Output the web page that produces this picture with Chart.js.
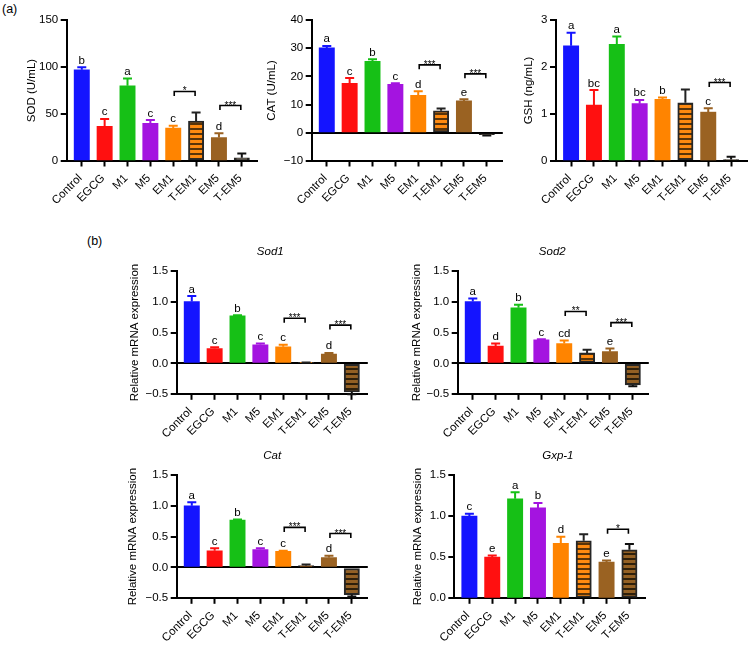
<!DOCTYPE html>
<html><head><meta charset="utf-8">
<script src="https://cdn.jsdelivr.net/npm/chart.js@4.4.1/dist/chart.umd.min.js"></script>
<style>
html,body{margin:0;padding:0;background:#fff;overflow:hidden;width:748px;height:651px;position:relative;}
canvas{position:absolute;}
.lab{position:absolute;font:12.5px "Liberation Sans",Arial,sans-serif;color:#000;}
</style></head><body>
<div class="lab" style="left:2px;top:2px">(a)</div>
<div class="lab" style="left:87px;top:234px">(b)</div>
<script>
// ---------- DATA ----------
const categories = ['Control','EGCG','M1','M5','EM1','T-EM1','EM5','T-EM5'];

const sodMean = [97, 37, 80, 40, 35, 42.5, 25, 3.5];
const sodSD   = [2.8, 7.8, 7.8, 3.5, 2.5, 9, 4.5, 4.5];
const sodLetters = ['b','c','a','c','c','','d',''];
const sodSig = [[4,5,74,'*'],[6,7,59,'***']];
const sodTicks = [0,50,100,150];

const catMean = [30.1, 17.5, 25.3, 17.2, 13.3, 7.8, 11.3, -0.7];
const catSD   = [0.7, 1.9, 0.8, 0.4, 1.4, 0.8, 0.6, 0.3];
const catLetters = ['a','c','b','c','d','','e',''];
const catSig = [[4,5,24.1,'***'],[6,7,20.9,'***']];
const catTicks = [-10,0,10,20,30,40];

const gshMean = [2.45, 1.19, 2.48, 1.22, 1.31, 1.24, 1.04, 0.03];
const gshSD   = [0.28, 0.32, 0.17, 0.08, 0.04, 0.28, 0.08, 0.06];
const gshLetters = ['a','bc','a','bc','b','','c',''];
const gshSig = [[6,7,1.67,'***']];
const gshTicks = [0,1,2,3];

const sod1Mean = [1.0, 0.24, 0.77, 0.30, 0.27, 0.01, 0.15, -0.46];
const sod1SD   = [0.09, 0.02, 0.01, 0.02, 0.03, 0.005, 0.02, 0.04];
const sod1Letters = ['a','c','b','c','c','','d',''];
const sod1Sig = [[4,5,0.73,'***'],[6,7,0.62,'***']];

const sod2Mean = [1.0, 0.28, 0.90, 0.38, 0.32, 0.17, 0.19, -0.35];
const sod2SD   = [0.05, 0.04, 0.05, 0.01, 0.05, 0.05, 0.05, 0.02];
const sod2Letters = ['a','d','b','c','cd','','e',''];
const sod2Sig = [[4,5,0.84,'**'],[6,7,0.66,'***']];

const catgMean = [1.0, 0.27, 0.77, 0.29, 0.26, 0.03, 0.16, -0.44];
const catgSD   = [0.06, 0.04, 0.01, 0.02, 0.01, 0.02, 0.03, 0.03];
const catgLetters = ['a','c','b','c','c','','d',''];
const catgSig = [[4,5,0.65,'***'],[6,7,0.55,'***']];

const gxpMean = [1.0, 0.50, 1.21, 1.10, 0.67, 0.70, 0.44, 0.59];
const gxpSD   = [0.03, 0.02, 0.08, 0.06, 0.08, 0.08, 0.02, 0.07];
const gxpLetters = ['c','e','a','b','d','','e',''];
const gxpSig = [[6,7,0.84,'*']];

const mrnaTicks = [-0.5,0,0.5,1.0,1.5];
const gxpTicks = [0,0.5,1.0,1.5];

// ---------- STYLE / LAYOUT ----------
const FONT = "'Liberation Sans', Arial, sans-serif";
Chart.defaults.font.family = FONT;
Chart.defaults.font.size = 11.5;
Chart.defaults.color = '#000';

function stripes(bg, fg){
  const c = document.createElement('canvas'); c.width = 4; c.height = 5;
  const g = c.getContext('2d');
  g.fillStyle = bg; g.fillRect(0,0,4,5);
  g.fillStyle = fg; g.fillRect(0,3,4,2);
  return g.createPattern(c,'repeat');
}
const barColors = ['#1414ff','#ff1010','#16c016','#a414e0','#ff8400', stripes('#ff8a10','#5a3408'), '#9a6222', stripes('#936024','#2e1f0a')];
const errColors = ['#1414ff','#ff1010','#16c016','#a414e0','#ff8400','#222','#9a6222','#111'];
const borderW = [0,0,0,0,0,2,0,2];

const X_MIN = -0.66, X_MAX = 7.7, UNIT = 22.86;

const panels = [
  {mean:sodMean, sd:sodSD, letters:sodLetters, sig:sodSig, ticks:sodTicks, dec:0, ytitle:'SOD (U/mL)', axisX:66.7, plotTop:20, plotBottom:161, titleX:32},
  {mean:catMean, sd:catSD, letters:catLetters, sig:catSig, ticks:catTicks, dec:0, ytitle:'CAT (U/mL)', axisX:311.7, plotTop:20, plotBottom:161, titleX:272},
  {mean:gshMean, sd:gshSD, letters:gshLetters, sig:gshSig, ticks:gshTicks, dec:0, ytitle:'GSH (ng/mL)', axisX:556, plotTop:20, plotBottom:161, titleX:529},
  {mean:sod1Mean, sd:sod1SD, letters:sod1Letters, sig:sod1Sig, ticks:mrnaTicks, dec:1, ytitle:'Relative mRNA expression', axisX:176.7, plotTop:270.7, plotBottom:394.3, titleX:135, title:'Sod1', tdx:-2},
  {mean:sod2Mean, sd:sod2SD, letters:sod2Letters, sig:sod2Sig, ticks:mrnaTicks, dec:1, ytitle:'Relative mRNA expression', axisX:457.7, plotTop:270.7, plotBottom:394.3, titleX:416.7, title:'Sod2', tdx:-1},
  {mean:catgMean, sd:catgSD, letters:catgLetters, sig:catgSig, ticks:mrnaTicks, dec:1, ytitle:'Relative mRNA expression', axisX:176.7, plotTop:475, plotBottom:598.3, titleX:132.7, title:'Cat', tdx:0},
  {mean:gxpMean, sd:gxpSD, letters:gxpLetters, sig:gxpSig, ticks:gxpTicks, dec:1, ytitle:'Relative mRNA expression', axisX:454.3, plotTop:475, plotBottom:598.3, titleX:417.7, title:'Gxp-1', tdx:8}
];

const annot = {
  id:'annot',
  afterDatasetsDraw(chart, args, o){
    const ctx = chart.ctx, ys = chart.scales.y, meta = chart.getDatasetMeta(0);
    ctx.save();
    o.mean.forEach((m,i)=>{
      const x = meta.data[i].x;
      const dir = m >= 0 ? 1 : -1;
      const y0 = ys.getPixelForValue(m);
      const y1 = ys.getPixelForValue(m + dir*o.sd[i]);
      ctx.strokeStyle = errColors[i]; ctx.lineWidth = 2;
      ctx.beginPath();
      ctx.moveTo(x, y0); ctx.lineTo(x, y1);
      ctx.moveTo(x-4.5, y1); ctx.lineTo(x+4.5, y1);
      ctx.stroke();
      if (o.letters[i]) {
        ctx.fillStyle = '#000'; ctx.font = '11.5px ' + FONT;
        ctx.textAlign = 'center'; ctx.textBaseline = 'alphabetic';
        ctx.fillText(o.letters[i], x, y1 - 3.5);
      }
    });
    o.sig.forEach(([a,b,h,s])=>{
      const xa = meta.data[a].x + 1, xb = meta.data[b].x - 1, yy = ys.getPixelForValue(h);
      ctx.strokeStyle = '#000'; ctx.lineWidth = 1.6;
      ctx.beginPath();
      ctx.moveTo(xa, yy+4.5); ctx.lineTo(xa, yy); ctx.lineTo(xb, yy); ctx.lineTo(xb, yy+4.5);
      ctx.stroke();
      ctx.fillStyle = '#000'; ctx.font = '10px ' + FONT;
      ctx.textAlign = 'center'; ctx.textBaseline = 'alphabetic';
      ctx.fillText(s, (xa+xb)/2, yy + 3);
    });
    if (o.title) {
      const ca = chart.chartArea;
      ctx.fillStyle = '#000'; ctx.font = 'italic 11.5px ' + FONT;
      ctx.textAlign = 'center'; ctx.textBaseline = 'middle';
      ctx.fillText(o.title, (ca.left+ca.right)/2 + o.tdx, ca.top - 19);
    }
    ctx.restore();
  }
};

function fmt(v, dec){
  const s = Math.abs(v).toFixed(dec);
  return (v < 0 ? '\u2212' : '') + s;
}

panels.forEach(P=>{
  const plotW = (X_MAX - X_MIN) * UNIT;
  const cl = Math.round(P.titleX - 6.9);
  const yW = P.axisX - cl;
  const topPad = P.title ? 30 : 10;
  const ct = Math.floor(P.plotTop - topPad);
  const padTop = P.plotTop - ct;
  const plotH = P.plotBottom - P.plotTop;
  const xH = 52;
  const cw = Math.ceil(yW + plotW + 8);
  const ch = Math.ceil(padTop + plotH + xH);
  const padRight = cw - yW - plotW;
  const padBottom = ch - padTop - plotH - xH;

  const cv = document.createElement('canvas');
  cv.width = cw; cv.height = ch;
  cv.style.left = cl + 'px'; cv.style.top = ct + 'px';
  cv.style.width = cw + 'px'; cv.style.height = ch + 'px';
  document.body.appendChild(cv);

  const data = P.mean.map((v,i)=>({x:i, y:v}));
  const hasZeroLine = P.ticks[0] < 0;

  new Chart(cv, {
    type:'bar',
    data:{ datasets:[{
      data,
      backgroundColor: barColors,
      borderColor: '#262626',
      borderWidth: borderW,
      borderSkipped: false,
      barThickness: 15.3,
    }]},
    options:{
      responsive:false, animation:false, events:[],
      layout:{ padding:{left:0, top:padTop, right:padRight, bottom:padBottom} },
      plugins:{ legend:{display:false}, tooltip:{enabled:false}, title:{display:false},
        annot:{ mean:P.mean, sd:P.sd, letters:P.letters, sig:P.sig, title:P.title, tdx:P.tdx||0 } },
      scales:{
        x:{
          type:'linear', min:X_MIN, max:X_MAX, offset:false,
          afterBuildTicks(s){ s.ticks = categories.map((c,i)=>({value:i})); },
          afterFit(s){ s.height = xH; s.paddingLeft = 0; s.paddingRight = 0; },
          grid:{ offset:false, drawOnChartArea:false, drawTicks:true, tickLength:5.5, tickColor:'#000', tickWidth:2, color:'transparent' },
          border:{ display:true, color:'#000', width:2 },
          ticks:{ autoSkip:false, minRotation:45, maxRotation:45, padding:5, labelOffset:-1.5, color:'#000',
            font:{size:11.5}, callback:(v)=>categories[v] }
        },
        y:{
          min:P.ticks[0], max:P.ticks[P.ticks.length-1],
          afterBuildTicks(s){ s.ticks = P.ticks.map(v=>({value:v})); },
          afterFit(s){ s.width = yW; s.paddingTop = 0; s.paddingBottom = 0; },
          grid:{ drawOnChartArea:hasZeroLine, drawTicks:true, tickLength:6, tickColor:'#000', tickWidth:2,
            lineWidth:2, color:(c)=> (c.tick && c.tick.value === 0) ? '#000' : 'transparent' },
          border:{ display:true, color:'#000', width:2 },
          ticks:{ padding:2.5, color:'#000', font:{size:11.5}, callback:(v)=>fmt(v, P.dec) },
          title:{ display:true, text:P.ytitle, color:'#000', padding:0, font:{size:11.5} }
        }
      }
    },
    plugins:[annot]
  });
});
</script>
</body></html>
